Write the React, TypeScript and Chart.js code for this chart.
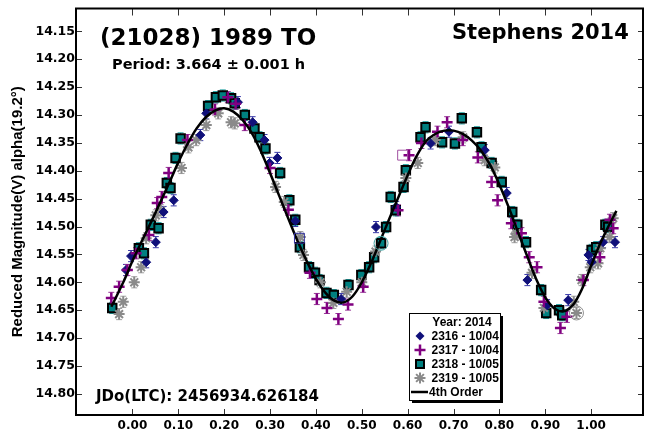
import React, { useEffect, useRef } from 'react';
import { Chart, registerables } from 'chart.js';

Chart.register(...registerables);

// ---- axes ----
const X_TICKS = [0.0, 0.1, 0.2, 0.3, 0.4, 0.5, 0.6, 0.7, 0.8, 0.9, 1.0];
const Y_TICKS = [14.15, 14.2, 14.25, 14.3, 14.35, 14.4, 14.45, 14.5, 14.55, 14.6, 14.65, 14.7, 14.75, 14.8];
const X_MIN = -0.123;
const X_MAX = 1.113;
const Y_MIN = 14.109;
const Y_MAX = 14.838;

// ---- texts ----
const TITLE = '(21028) 1989 TO';
const PERIOD = 'Period: 3.664 ± 0.001 h';
const AUTHOR = 'Stephens 2014';
const JDO = 'JDo(LTC): 2456934.626184';
const Y_TITLE = 'Reduced Magnitude(V) alpha(19.2°)';
const LEGEND_TITLE = 'Year: 2014';

// ---- session 2316 - 10/04 (diamonds) ----
const PHASE_2316 = [-0.014, -0.003, 0.030, 0.051, 0.068, 0.090, 0.148, 0.161, 0.230, 0.262, 0.288, 0.299, 0.316, 0.355, 0.455, 0.531, 0.575, 0.650, 0.690, 0.768, 0.816, 0.861, 0.904, 0.950, 0.994, 1.001, 1.026, 1.052];
const MAG_2316 = [14.578, 14.553, 14.564, 14.528, 14.474, 14.453, 14.336, 14.297, 14.277, 14.313, 14.345, 14.386, 14.377, 14.490, 14.630, 14.501, 14.465, 14.351, 14.330, 14.363, 14.440, 14.596, 14.641, 14.632, 14.551, 14.564, 14.528, 14.528];
const ERR_2316 = 0.010;

// ---- session 2317 - 10/04 (plus) ----
const PHASE_2317 = [-0.046, -0.029, -0.011, 0.008, 0.036, 0.054, 0.064, 0.079, 0.120, 0.180, 0.208, 0.225, 0.245, 0.300, 0.340, 0.387, 0.402, 0.424, 0.449, 0.470, 0.503, 0.579, 0.603, 0.630, 0.665, 0.686, 0.720, 0.753, 0.783, 0.796, 0.826, 0.848, 0.865, 0.882, 0.897, 0.933, 0.947, 0.983, 1.019, 1.041, 1.048];
const MAG_2317 = [14.628, 14.608, 14.578, 14.548, 14.515, 14.458, 14.447, 14.404, 14.345, 14.290, 14.268, 14.280, 14.318, 14.395, 14.470, 14.583, 14.630, 14.646, 14.666, 14.640, 14.608, 14.471, 14.372, 14.350, 14.330, 14.313, 14.345, 14.376, 14.420, 14.453, 14.494, 14.512, 14.555, 14.573, 14.635, 14.682, 14.662, 14.596, 14.555, 14.488, 14.503];
const ERR_2317 = 0.010;

// ---- session 2318 - 10/05 (squares) ----
const PHASE_2318 = [-0.044, 0.014, 0.025, 0.040, 0.057, 0.075, 0.083, 0.094, 0.105, 0.165, 0.182, 0.197, 0.215, 0.223, 0.245, 0.266, 0.277, 0.290, 0.322, 0.342, 0.355, 0.365, 0.385, 0.398, 0.408, 0.423, 0.439, 0.471, 0.499, 0.516, 0.527, 0.542, 0.553, 0.563, 0.574, 0.591, 0.596, 0.628, 0.639, 0.675, 0.703, 0.718, 0.751, 0.761, 0.783, 0.805, 0.828, 0.839, 0.858, 0.891, 0.902, 0.930, 0.937, 1.001, 1.011, 1.031, 1.037];
const MAG_2318 = [14.646, 14.539, 14.548, 14.497, 14.503, 14.422, 14.431, 14.377, 14.342, 14.284, 14.268, 14.265, 14.270, 14.279, 14.300, 14.324, 14.340, 14.360, 14.404, 14.453, 14.488, 14.537, 14.573, 14.583, 14.596, 14.619, 14.623, 14.605, 14.587, 14.573, 14.555, 14.530, 14.501, 14.447, 14.471, 14.429, 14.399, 14.340, 14.322, 14.349, 14.351, 14.306, 14.331, 14.358, 14.386, 14.420, 14.474, 14.497, 14.528, 14.614, 14.655, 14.650, 14.659, 14.542, 14.537, 14.497, 14.501];
const ERR_2318 = 0.010;

// ---- session 2319 - 10/05 (asterisks) ----
const PHASE_2319 = [-0.029, -0.020, 0.004, 0.019, 0.030, 0.051, 0.062, 0.107, 0.122, 0.139, 0.161, 0.187, 0.215, 0.223, 0.312, 0.331, 0.366, 0.373, 0.410, 0.438, 0.467, 0.500, 0.530, 0.596, 0.622, 0.660, 0.721, 0.768, 0.790, 0.833, 0.837, 0.871, 0.897, 0.962, 0.968, 0.979, 0.998, 1.015, 1.020, 1.040, 1.048];
const MAG_2319 = [14.657, 14.635, 14.600, 14.573, 14.521, 14.480, 14.471, 14.395, 14.358, 14.345, 14.318, 14.297, 14.313, 14.315, 14.429, 14.456, 14.519, 14.551, 14.600, 14.637, 14.617, 14.600, 14.545, 14.413, 14.386, 14.345, 14.340, 14.381, 14.394, 14.519, 14.512, 14.583, 14.646, 14.635, 14.655, 14.596, 14.573, 14.566, 14.539, 14.519, 14.485];
const ERR_2319 = 0.010;

// ---- excluded (open markers) ----
const PHASE_EXCL = [0.364, 0.589, 0.542, 0.968];
const MAG_EXCL = [14.521, 14.372, 14.530, 14.655];

// ---- 4th order Fourier fit ----
const FIT_PHASE = [-0.046, -0.02, 0.00, 0.02, 0.04, 0.06, 0.08, 0.10, 0.12, 0.14, 0.16, 0.18, 0.20, 0.22, 0.24, 0.26, 0.28, 0.30, 0.32, 0.34, 0.36, 0.38, 0.40, 0.42, 0.44, 0.46, 0.48, 0.50, 0.52, 0.54, 0.56, 0.58, 0.60, 0.62, 0.64, 0.66, 0.68, 0.70, 0.72, 0.74, 0.76, 0.78, 0.80, 0.82, 0.84, 0.86, 0.88, 0.90, 0.92, 0.94, 0.96, 0.98, 1.00, 1.02, 1.04, 1.055];
const FIT_MAG = [14.644, 14.600, 14.562, 14.527, 14.493, 14.458, 14.422, 14.385, 14.352, 14.324, 14.304, 14.292, 14.288, 14.294, 14.309, 14.332, 14.365, 14.404, 14.445, 14.486, 14.526, 14.562, 14.594, 14.618, 14.633, 14.636, 14.625, 14.600, 14.566, 14.526, 14.486, 14.447, 14.408, 14.373, 14.347, 14.334, 14.328, 14.328, 14.334, 14.346, 14.364, 14.390, 14.425, 14.465, 14.509, 14.552, 14.594, 14.627, 14.647, 14.652, 14.641, 14.612, 14.570, 14.530, 14.496, 14.472];

const NAVY = '#10107a';
const PURPLE = '#800080';
const TEAL = '#008080';
const GRAY = '#8a8a8a';

const pts = (xs: number[], ys: number[]) => xs.map((x, i) => ({ x, y: ys[i] }));

const DJ = "'DejaVu Sans', sans-serif";
const LS = "'Liberation Sans', Arial, sans-serif";

function drawMarker(ctx: CanvasRenderingContext2D, kind: string, x: number, y: number) {
  ctx.save();
  if (kind === 'diamond') {
    ctx.fillStyle = NAVY;
    ctx.beginPath();
    ctx.moveTo(x, y - 4.5); ctx.lineTo(x + 4.5, y); ctx.lineTo(x, y + 4.5); ctx.lineTo(x - 4.5, y);
    ctx.closePath(); ctx.fill();
  } else if (kind === 'plus') {
    ctx.strokeStyle = PURPLE; ctx.lineWidth = 2.5;
    ctx.beginPath();
    ctx.moveTo(x - 5.5, y); ctx.lineTo(x + 5.5, y); ctx.moveTo(x, y - 5.5); ctx.lineTo(x, y + 5.5);
    ctx.stroke();
  } else if (kind === 'square') {
    ctx.fillStyle = TEAL; ctx.strokeStyle = '#000'; ctx.lineWidth = 2;
    ctx.fillRect(x - 4, y - 4, 8, 8); ctx.strokeRect(x - 4, y - 4, 8, 8);
  } else if (kind === 'star') {
    ctx.strokeStyle = GRAY; ctx.lineWidth = 2;
    ctx.beginPath();
    for (let k = 0; k < 4; k++) {
      const a = (k * Math.PI) / 4;
      ctx.moveTo(x - 5.5 * Math.cos(a), y - 5.5 * Math.sin(a));
      ctx.lineTo(x + 5.5 * Math.cos(a), y + 5.5 * Math.sin(a));
    }
    ctx.stroke();
  } else if (kind === 'line') {
    ctx.strokeStyle = '#000'; ctx.lineWidth = 2.5;
    ctx.beginPath(); ctx.moveTo(x - 9, y); ctx.lineTo(x + 8, y); ctx.stroke();
  }
  ctx.restore();
}

const decorPlugin = {
  id: 'decor',
  beforeDatasetsDraw(chart: any) {
    const { ctx, scales } = chart;
    const xs = scales.x, ys = scales.y;
    ctx.save();
    chart.data.datasets.forEach((ds: any) => {
      if (!ds.errorBar) return;
      ctx.strokeStyle = ds.errorColor;
      ctx.lineWidth = 1;
      ds.data.forEach((p: any) => {
        const px = xs.getPixelForValue(p.x);
        const y1 = ys.getPixelForValue(p.y - ds.errorBar);
        const y2 = ys.getPixelForValue(p.y + ds.errorBar);
        ctx.beginPath();
        ctx.moveTo(px, y1); ctx.lineTo(px, y2);
        ctx.moveTo(px - 3, y1); ctx.lineTo(px + 3, y1);
        ctx.moveTo(px - 3, y2); ctx.lineTo(px + 3, y2);
        ctx.stroke();
      });
    });
    ctx.restore();
  },
  afterDraw(chart: any) {
    const { ctx, chartArea, scales } = chart;
    const { left, right, top, bottom } = chartArea;
    const xs = scales.x, ys = scales.y;
    ctx.save();
    // inner ticks
    ctx.strokeStyle = '#333';
    ctx.lineWidth = 1;
    ctx.beginPath();
    X_TICKS.forEach((v) => {
      const px = Math.round(xs.getPixelForValue(v)) + 0.5;
      ctx.moveTo(px, top); ctx.lineTo(px, top + 7);
      ctx.moveTo(px, bottom); ctx.lineTo(px, bottom - 6);
    });
    Y_TICKS.forEach((v) => {
      const py = Math.round(ys.getPixelForValue(v)) + 0.5;
      ctx.moveTo(left, py); ctx.lineTo(left + 6, py);
      ctx.moveTo(right, py); ctx.lineTo(right - 5, py);
    });
    ctx.stroke();
    // frame
    ctx.strokeStyle = '#000';
    ctx.lineWidth = 2;
    ctx.strokeRect(left, top, right - left, bottom - top);

    // annotations
    ctx.fillStyle = '#000';
    ctx.textBaseline = 'alphabetic';
    ctx.textAlign = 'left';
    ctx.font = `bold 23px ${DJ}`;
    ctx.fillText(TITLE, 100, 45);
    ctx.font = `bold 14.5px ${DJ}`;
    ctx.fillText(PERIOD, 112, 68.5);
    ctx.font = `bold 21px ${DJ}`;
    ctx.fillText(AUTHOR, 452, 38.5);
    ctx.font = `bold 15px ${DJ}`;
    ctx.fillText(JDO, 96, 400.5);

    // legend
    const lx = 409, ly = 313, lw = 91, lh = 87;
    ctx.fillStyle = '#000';
    ctx.fillRect(lx + 3, ly + 3, lw, lh);
    ctx.fillStyle = '#fff';
    ctx.fillRect(lx, ly, lw, lh);
    ctx.strokeStyle = '#000';
    ctx.lineWidth = 1;
    ctx.strokeRect(lx + 0.5, ly + 0.5, lw, lh);
    ctx.fillStyle = '#000';
    ctx.font = `bold 12px ${LS}`;
    ctx.textAlign = 'center';
    ctx.fillText(LEGEND_TITLE, 462, 325.5);
    ctx.textAlign = 'left';
    const items = chart.data.datasets.filter((d: any) => d.legendKind);
    items.sort((a: any, b: any) => a.legendIndex - b.legendIndex);
    items.forEach((d: any, i: number) => {
      const cy = 336 + i * 14;
      drawMarker(ctx, d.legendKind, 420, cy);
      ctx.fillStyle = '#000';
      ctx.fillText(d.label, d.legendKind === 'line' ? 429 : 431.5, cy + 4.3);
    });
    ctx.restore();
  },
};

export default function App() {
  const ref = useRef<HTMLCanvasElement | null>(null);
  useEffect(() => {
    if (!ref.current) return;
    const chart = new Chart(ref.current, {
      type: 'scatter',
      data: {
        datasets: [
          {
            label: '4th Order', data: pts(FIT_PHASE, FIT_MAG), showLine: true, pointRadius: 0,
            borderColor: '#000', borderWidth: 2.5, tension: 0.35, order: 1,
            legendKind: 'line', legendIndex: 4,
          } as any,
          {
            label: '2316 - 10/04', data: pts(PHASE_2316, MAG_2316), pointStyle: 'rectRot', pointRadius: 4.5,
            backgroundColor: NAVY, borderColor: NAVY, borderWidth: 1, order: 3,
            errorBar: ERR_2316, errorColor: '#3a3aa8', legendKind: 'diamond', legendIndex: 0,
          } as any,
          {
            label: '2317 - 10/04', data: pts(PHASE_2317, MAG_2317), pointStyle: 'cross', pointRadius: 5.5,
            backgroundColor: PURPLE, borderColor: PURPLE, borderWidth: 2.5, order: 2,
            errorBar: ERR_2317, errorColor: '#9a3a9a', legendKind: 'plus', legendIndex: 1,
          } as any,
          {
            label: '2318 - 10/05', data: pts(PHASE_2318, MAG_2318), pointStyle: 'rect', pointRadius: 6,
            backgroundColor: TEAL, borderColor: '#000', borderWidth: 2, order: 5,
            errorBar: ERR_2318, errorColor: '#20a0a0', legendKind: 'square', legendIndex: 2,
          } as any,
          {
            label: '2319 - 10/05', data: pts(PHASE_2319, MAG_2319), pointStyle: 'star', pointRadius: 5.5,
            backgroundColor: GRAY, borderColor: GRAY, borderWidth: 2, order: 4,
            errorBar: ERR_2319, errorColor: '#a0a0a0', legendKind: 'star', legendIndex: 3,
          } as any,
          {
            label: 'excluded', data: pts(PHASE_EXCL, MAG_EXCL),
            pointStyle: ['rect', 'rect', 'circle', 'circle'], pointRadius: 7,
            backgroundColor: 'rgba(0,0,0,0)', borderColor: ['#3030a0', '#a050a0', '#40a0a0', '#909090'],
            borderWidth: 1, order: 0,
          } as any,
        ],
      },
      options: {
        animation: false,
        responsive: false,
        devicePixelRatio: 1,
        layout: { padding: { top: 8, right: 1, left: 0, bottom: 0 } },
        plugins: { legend: { display: false }, tooltip: { enabled: false } },
        scales: {
          x: {
            type: 'linear', min: X_MIN, max: X_MAX,
            grid: { display: false, drawTicks: false }, border: { display: false },
            afterBuildTicks: (s: any) => { s.ticks = X_TICKS.map((v) => ({ value: v })); },
            afterFit: (s: any) => { s.height = 24; },
            ticks: {
              autoSkip: false, maxRotation: 0, padding: 4, color: '#000',
              font: { family: DJ, weight: 'bold', size: 12 },
              callback: (v: any) => Number(v).toFixed(2),
            },
          },
          y: {
            type: 'linear', min: Y_MIN, max: Y_MAX, reverse: true,
            grid: { display: false, drawTicks: false }, border: { display: false },
            afterBuildTicks: (s: any) => { s.ticks = Y_TICKS.map((v) => ({ value: v })); },
            afterFit: (s: any) => { s.width = 76; },
            title: {
              display: true, text: Y_TITLE, color: '#000',
              font: { family: LS, weight: 'bold', size: 15 },
              padding: { top: 8.5, bottom: 0 },
            },
            ticks: {
              autoSkip: false, padding: 1, color: '#000',
              font: { family: DJ, weight: 'bold', size: 12.5 },
              callback: (v: any) => Number(v).toFixed(2),
            },
          },
        },
      } as any,
      plugins: [decorPlugin],
    });
    return () => chart.destroy();
  }, []);
  return (
    <div style={{ position: 'absolute', left: 0, top: 0, width: 651, height: 439, background: '#fff' }}>
      <canvas ref={ref} width={651} height={439} style={{ display: 'block' }} />
    </div>
  );
}
